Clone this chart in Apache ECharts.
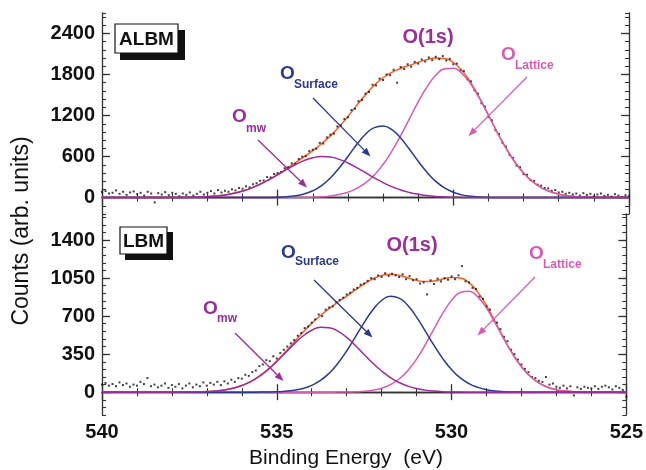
<!DOCTYPE html>
<html><head><meta charset="utf-8">
<script src="https://cdn.jsdelivr.net/npm/echarts@6/dist/echarts.min.js"></script>
<style>html,body{margin:0;padding:0;background:#fff}#c{width:646px;height:470px}</style>
</head><body><div id="c"></div>
<script>
// ---- data (binding energy grid: 540 -> 525 eV) ----
const curveStart = 540, curveStep = 0.25, curveCount = 61;
const dotStart = 540, dotStep = 0.1, dotCount = 151;

// Top panel: ALBM
const albmOmw = [0,0,0,0,0,0,0,1,1,2,4,8,14,24,39,63,96,139,195,261,334,409,480,540,582,600,592,559,506,439,364,289,220,160,112,75,48,29,17,10,5,3,1,1,0,0,0,0,0,0,0,0,0,0,0,0,0,0,0,0,0];
const albmSurface = [0,0,0,0,0,0,0,0,0,0,0,0,0,0,0,0,0,0,1,2,5,12,26,53,100,176,287,432,601,776,926,1024,1048,993,871,707,532,370,238,142,78,40,19,8,3,1,0,0,0,0,0,0,0,0,0,0,0,0,0,0,0];
const albmLattice = [0,0,0,0,0,0,0,0,0,0,0,0,0,0,0,0,0,0,0,0,0,0,1,3,6,12,24,45,79,134,215,331,485,679,906,1152,1399,1619,1788,1884,1893,1814,1658,1446,1202,954,722,521,359,236,147,88,50,27,14,7,3,1,0,0,0];
const albmFit = [0,0,0,0,0,0,0,1,1,2,4,8,14,24,39,63,96,139,196,263,339,421,507,596,688,788,903,1036,1186,1349,1505,1644,1753,1832,1889,1934,1979,2018,2043,2036,1976,1857,1678,1455,1205,955,722,521,359,236,147,88,50,27,14,7,3,1,0,0,0];
const albmData = [
  80,95,60,70,105,55,85,40,75,90,
  50,70,30,85,60,-70,65,45,80,35,
  70,55,20,60,40,75,30,55,85,45,
  70,95,60,110,75,100,85,120,105,140,
  130,165,150,195,210,245,250,300,295,345,
  360,375,430,445,500,495,565,600,605,680,
  700,715,800,790,880,920,935,1040,1055,1150,
  1175,1280,1300,1410,1430,1520,1545,1650,1640,1740,
  1720,1800,1790,1870,1680,1910,1880,1950,1915,1985,
  1960,2020,1990,2050,2010,2060,2025,2070,2005,2030,
  1950,1960,1860,1850,1730,1700,1570,1520,1380,1330,
  1180,1130,985,930,800,745,625,580,470,445,
  345,335,255,245,190,175,140,135,100,110,
  75,85,55,70,45,60,30,65,40,55,
  20,45,60,25,40,15,50,30,10,35,
  20];

// Bottom panel: LBM
const lbmOmw = [0,0,0,0,0,0,0,0,0,1,1,3,6,11,21,37,61,97,146,208,283,364,445,517,570,598,594,562,504,429,347,267,195,135,89,56,33,19,10,5,2,1,0,0,0,0,0,0,0,0,0,0,0,0,0,0,0,0,0,0,0];
const lbmSurface = [0,0,0,0,0,0,0,0,0,0,0,0,0,0,0,0,0,0,1,2,4,8,18,34,63,108,175,266,379,509,641,759,844,882,866,798,691,562,430,309,208,132,79,44,23,11,5,2,1,0,0,0,0,0,0,0,0,0,0,0,0];
const lbmLattice = [0,0,0,0,0,0,0,0,0,0,0,0,0,0,0,0,0,0,0,0,0,0,0,0,0,0,0,1,1,4,8,18,36,69,121,199,305,437,583,727,845,917,929,877,773,636,488,350,234,146,85,46,23,11,5,2,1,0,0,0,0];
const lbmFit = [0,0,0,0,0,0,0,0,0,1,1,3,6,11,21,37,61,97,147,210,287,372,463,551,633,706,769,829,884,942,996,1044,1075,1086,1076,1053,1029,1018,1023,1041,1055,1050,1008,921,796,647,493,352,235,146,85,46,23,11,5,2,1,0,0,0,0];
const lbmData = [
  70,85,60,75,55,90,65,80,50,70,
  60,95,75,130,55,70,45,60,80,40,
  65,50,75,35,60,80,45,70,55,90,
  60,85,70,95,65,100,80,115,95,130,
  125,160,150,185,200,240,255,295,285,330,
  310,360,390,420,450,480,520,545,590,605,
  640,670,715,700,760,780,790,830,850,870,
  900,915,945,960,990,1000,1025,1050,1040,1075,
  1060,1095,1070,1090,1075,1060,1085,1040,1070,1030,
  1040,1000,1010,900,1030,995,1045,1020,1050,1035,
  1065,1040,1075,1160,1020,1010,960,950,880,860,
  790,760,660,640,580,510,470,390,350,300,
  255,215,185,140,130,105,95,140,70,80,
  50,40,60,35,55,-30,45,30,50,40,
  35,55,30,50,60,45,25,55,40,20,
  -40];

const xTicks = [540, 535, 530, 525];
const albmYTicks = [0, 600, 1200, 1800, 2400];
const lbmYTicks = [0, 350, 700, 1050, 1400];

// ---- build ----
function grid(start, step, n) { const a = []; for (let i = 0; i < n; i++) a.push(+(start - step * i).toFixed(3)); return a; }
const eCurve = grid(curveStart, curveStep, curveCount);
const eDots = grid(dotStart, dotStep, dotCount);
const pairs = (xs, ys) => ys.map((v, i) => [xs[i], v]);

const FONT = '"Liberation Sans", Arial, Helvetica, sans-serif';
const C_MW = '#9A2C9B', C_SURF = '#2B3990', C_LAT = '#DA5AB0', C_FIT = '#FF5A1F', AX = '#333';

function xAxes(g, showLabels) {
  const base = { gridIndex: g, type: 'value', min: 525, max: 540, interval: 5, inverse: true,
    axisLine: { show: true, lineStyle: { color: AX, width: 1.3 } },
    axisTick: { inside: true, length: 8, lineStyle: { color: AX, width: 1.3 } },
    minorTick: { show: true, splitNumber: 5, length: 4, lineStyle: { color: AX, width: 1.1 } },
    splitLine: { show: false }, minorSplitLine: { show: false } };
  return [
    Object.assign({}, base, { position: 'bottom', axisLabel: showLabels ? { show: true, margin: 7, color: '#111', fontFamily: FONT, fontWeight: 'bold', fontSize: 20, customValues: xTicks } : { show: false } }),
    Object.assign({}, base, { position: 'top', axisLabel: { show: false } })
  ];
}
function yAxes(g, min, max, minor, majors) {
  const line = { show: true, lineStyle: { color: AX, width: 1.3 } };
  const minorT = { inside: true, length: 4, lineStyle: { color: AX, width: 1.1 } };
  const majorT = { inside: true, length: 8, customValues: majors, lineStyle: { color: AX, width: 1.3 } };
  const common = { gridIndex: g, type: 'value', min: min, max: max, splitLine: { show: false } };
  return [
    Object.assign({}, common, { position: 'left', interval: minor, axisLine: line, axisTick: minorT,
      axisLabel: { show: true, margin: 7, color: '#111', fontFamily: FONT, fontWeight: 'bold', fontSize: 20,
        formatter: v => (majors.indexOf(v) >= 0 ? String(v) : '') } }),
    Object.assign({}, common, { position: 'left', interval: minor, axisLine: { show: false }, axisTick: majorT, axisLabel: { show: false } }),
    Object.assign({}, common, { position: 'right', interval: minor, axisLine: line, axisTick: minorT, axisLabel: { show: false } }),
    Object.assign({}, common, { position: 'right', interval: minor, axisLine: { show: false }, axisTick: majorT, axisLabel: { show: false } })
  ];
}
function line(name, xi, yi, data, color, z) {
  return { name, type: 'line', xAxisIndex: xi, yAxisIndex: yi, data: pairs(eCurve, data), smooth: true, showSymbol: false, symbol: 'none',
    lineStyle: { color, width: 1.5 }, z, silent: true, animation: false };
}
function dots(xi, yi, data) {
  return { type: 'scatter', xAxisIndex: xi, yAxisIndex: yi, data: pairs(eDots, data), symbol: 'rect', symbolSize: 2,
    itemStyle: { color: '#111' }, z: 3, silent: true, animation: false };
}
function arrow(x1, y1, x2, y2, c) {
  const dx = x2 - x1, dy = y2 - y1, L = Math.hypot(dx, dy), ux = dx / L, uy = dy / L;
  const hl = 9, hw = 3.5, bx = x2 - ux * hl, by = y2 - uy * hl;
  return [
    { type: 'line', shape: { x1, y1, x2: bx, y2: by }, style: { stroke: c, lineWidth: 1.3 }, z: 10 },
    { type: 'polygon', shape: { points: [[x2, y2], [bx - uy * hw, by + ux * hw], [bx + uy * hw, by - ux * hw]] }, style: { fill: c }, z: 10 }
  ];
}
function txt(x, y, text, size, color, weight, align) {
  return { type: 'text', x, y, z: 10, style: { text, fill: color, font: (weight || 'bold') + ' ' + size + 'px ' + FONT,
    align: align || 'left', verticalAlign: 'middle', textAlign: align || 'left', textVerticalAlign: 'middle' } };
}
function label(xO, yO, xs, ys, sub, color) {
  return [txt(xO, yO, 'O', 19, color), txt(xs, ys, sub, 12, color)];
}
function box(x, y, w, h, sx, sy, sw, sh, text) {
  return [
    { type: 'rect', shape: { x: sx, y: sy, width: sw, height: sh }, style: { fill: '#111' }, z: 9 },
    { type: 'rect', shape: { x, y, width: w, height: h }, style: { fill: '#fff', stroke: '#111', lineWidth: 1.2 }, z: 9 },
    txt(x + w / 2, y + h / 2 + 1, text, 19, '#111', 'bold', 'center')
  ];
}

const graphics = [].concat(
  box(115, 24, 63, 29, 120, 30, 65, 30, 'ALBM'),
  box(120, 227, 47, 27, 125, 232, 48, 28, 'LBM'),
  [txt(428, 37, 'O(1s)', 20, C_MW, 'bold', 'center'), txt(412, 245, 'O(1s)', 20, C_MW, 'bold', 'center')],
  label(501, 55, 515, 66, 'Lattice', C_LAT),
  label(280, 74, 294, 85, 'Surface', C_SURF),
  label(232, 117, 246, 129, 'mw', C_MW),
  label(529, 254, 543, 265, 'Lattice', C_LAT),
  label(281, 253, 295, 262, 'Surface', C_SURF),
  label(203, 309, 217, 319, 'mw', C_MW),
  arrow(258, 140, 307, 187.5, C_MW),
  arrow(313, 98, 370.5, 156.5, C_SURF),
  arrow(527, 77, 468.5, 136, C_LAT),
  arrow(235, 333, 283.5, 381, C_MW),
  arrow(314, 280, 372.5, 337.5, C_SURF),
  arrow(535, 277, 477.5, 335.5, C_LAT),
  [{ type: 'text', x: 22, y: 231, rotation: Math.PI / 2, z: 10,
     style: { text: 'Counts (arb. units)', fill: '#111', font: '23px ' + FONT, align: 'center', verticalAlign: 'middle', textAlign: 'center', textVerticalAlign: 'middle' } },
   { type: 'text', x: 346, y: 458, z: 10,
     style: { text: 'Binding Energy  (eV)', fill: '#111', font: '21px ' + FONT, align: 'center', verticalAlign: 'middle', textAlign: 'center', textVerticalAlign: 'middle' } }]
);

const option = {
  animation: false,
  backgroundColor: '#fff',
  grid: [
    { left: 102, right: 17, top: 13, height: 201 },
    { left: 102, right: 17, top: 214, height: 201 }
  ],
  xAxis: [].concat(xAxes(0, false), xAxes(1, true)),
  yAxis: [].concat(yAxes(0, -240, 2700, 120, albmYTicks), yAxes(1, -210, 1640, 70, lbmYTicks)),
  series: [
    line('fitA', 0, 0, albmFit, C_FIT, 2),
    dots(0, 0, albmData),
    line('latA', 0, 0, albmLattice, C_LAT, 4),
    line('surfA', 0, 0, albmSurface, C_SURF, 5),
    line('mwA', 0, 0, albmOmw, C_MW, 6),
    line('fitL', 2, 4, lbmFit, C_FIT, 2),
    dots(2, 4, lbmData),
    line('latL', 2, 4, lbmLattice, C_LAT, 4),
    line('surfL', 2, 4, lbmSurface, C_SURF, 5),
    line('mwL', 2, 4, lbmOmw, C_MW, 6)
  ],
  graphic: graphics
};
const chart = echarts.init(document.getElementById('c'), null, { renderer: 'canvas' });
chart.setOption(option);
</script>
</body></html>
